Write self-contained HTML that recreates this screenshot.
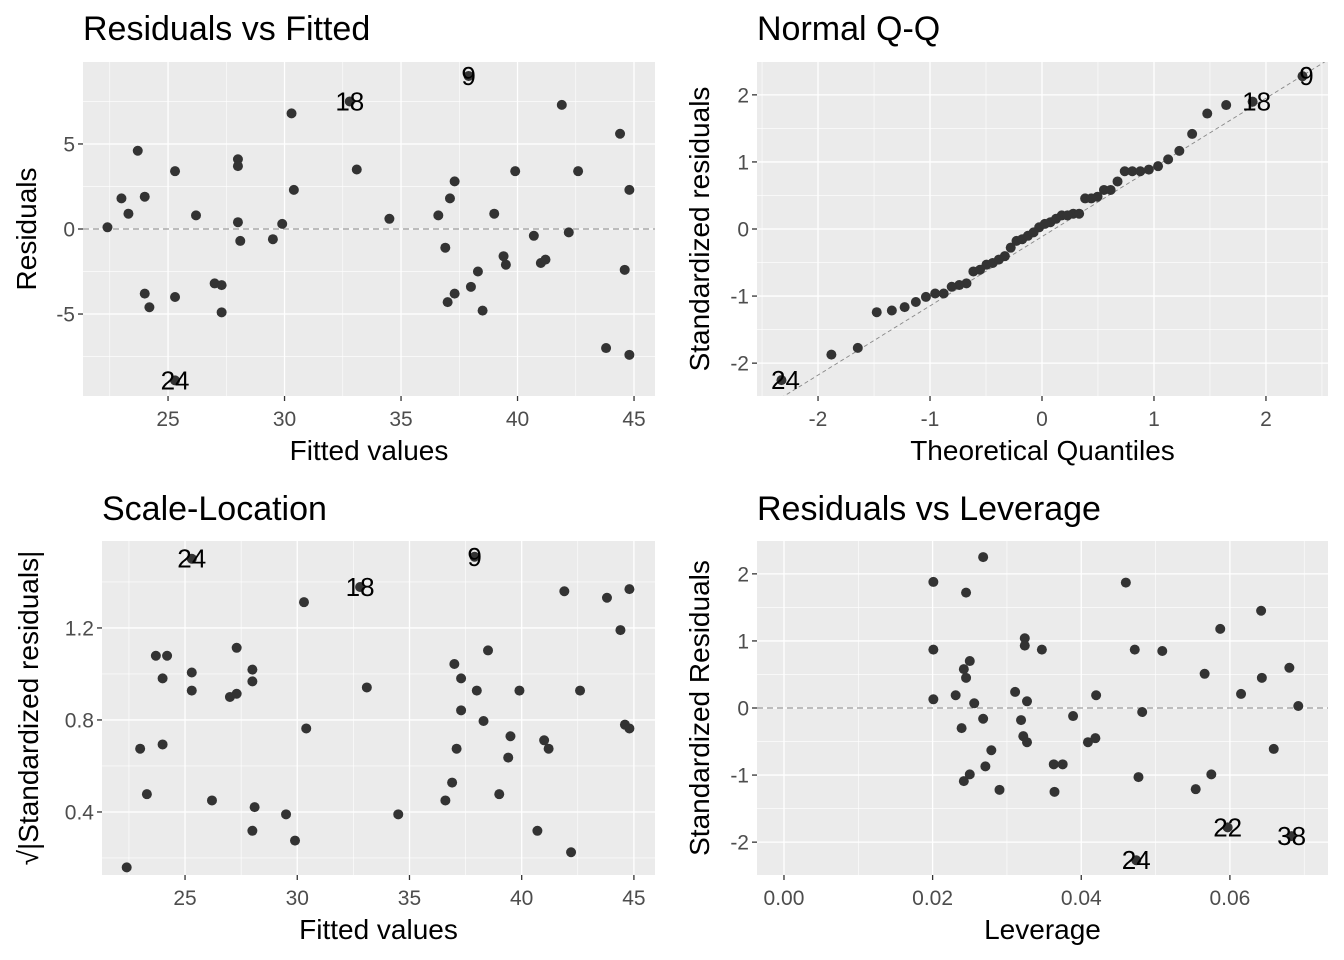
<!DOCTYPE html>
<html><head><meta charset="utf-8"><style>
body{margin:0;background:#fff}
svg{display:block;font-family:"Liberation Sans",sans-serif}
</style></head><body>
<svg id="chart" width="1344" height="960" viewBox="0 0 1344 960"></svg>
<script>
const fittedValues=[22.4,23.0,23.3,23.7,24.0,24.0,24.2,25.3,25.3,25.3,26.2,27.0,27.3,27.3,28.0,28.0,28.0,28.1,29.5,29.9,30.3,30.4,32.8,33.1,34.5,36.6,36.9,37.1,37.0,37.3,37.3,37.9,38.0,38.3,38.5,39.0,39.4,39.5,39.9,40.7,41.0,41.2,41.9,42.2,42.6,43.8,44.4,44.6,44.8,44.8];
const residualValues=[0.1,1.8,0.9,4.6,1.9,-3.8,-4.6,3.4,-4.0,-8.9,0.8,-3.2,-3.3,-4.9,4.1,3.7,0.4,-0.7,-0.6,0.3,6.8,2.3,7.5,3.5,0.6,0.8,-1.1,1.8,-4.3,2.8,-3.8,9.0,-3.4,-2.5,-4.8,0.9,-1.6,-2.1,3.4,-0.4,-2.0,-1.8,7.3,-0.2,3.4,-7.0,5.6,-2.4,2.3,-7.4];
const pointIds=[1,2,3,4,5,6,7,8,10,24,11,12,13,14,15,16,17,19,20,21,23,25,18,26,27,28,29,30,31,32,33,9,34,35,36,37,39,40,41,42,43,44,45,46,47,48,49,50,51,52];
const residualSigma=3.95;
const leverageValues=[0.0201,0.0201,0.0201,0.0245,0.0268,0.0231,0.0239,0.0242,0.0245,0.0250,0.0242,0.0250,0.0256,0.0268,0.0271,0.0279,0.0290,0.0311,0.0319,0.0324,0.0324,0.0322,0.0327,0.0327,0.0347,0.0363,0.0364,0.0375,0.0389,0.0409,0.0419,0.0420,0.0460,0.0472,0.0477,0.0474,0.0482,0.0509,0.0554,0.0566,0.0575,0.0587,0.0597,0.0615,0.0642,0.0643,0.0659,0.0680,0.0683,0.0692];
const leverageStdResiduals=[1.88,0.87,0.13,1.72,2.25,0.19,-0.30,0.58,0.45,0.70,-1.09,-0.99,0.07,-0.16,-0.87,-0.63,-1.22,0.24,-0.18,1.04,0.93,-0.42,-0.51,0.10,0.87,-0.84,-1.25,-0.84,-0.12,-0.51,-0.45,0.19,1.87,0.87,-1.03,-2.27,-0.06,0.85,-1.21,0.51,-0.99,1.18,-1.78,0.21,1.45,0.45,-0.61,0.60,-1.91,0.03];
const leverageLabels={35:"24",42:"22",48:"38"};
const labelIds=[9,18,24];
const rvfXTicks=[25,30,35,40,45], rvfYTicks=[-5,0,5];
const qqXTicks=[-2,-1,0,1,2], qqYTicks=[-2,-1,0,1,2];
const slYTicks=[0.4,0.8,1.2];
const levXTicks=[0,0.02,0.04,0.06], levYTicks=[-2,-1,0,1,2];

const NS="http://www.w3.org/2000/svg";
const svg=document.getElementById('chart');
function mk(tag,attrs,parent){const e=document.createElementNS(NS,tag);for(const k in attrs)e.setAttribute(k,attrs[k]);(parent||svg).appendChild(e);return e;}
function qnorm(p){const a=[-39.6968302866538,220.946098424521,-275.928510446969,138.357751867269,-30.6647980661472,2.50662827745924],b=[-54.4760987982241,161.585836858041,-155.698979859887,66.8013118877197,-13.2806815528857],c=[-0.00778489400243029,-0.322396458041136,-2.40075827716184,-2.54973253934373,4.37466414146317,2.93816398269878],d=[0.00778469570904146,0.32246712907004,2.445134137143,3.75440866190742];let q,r;
if(p<0.02425){q=Math.sqrt(-2*Math.log(p));return(((((c[0]*q+c[1])*q+c[2])*q+c[3])*q+c[4])*q+c[5])/((((d[0]*q+d[1])*q+d[2])*q+d[3])*q+1);}
if(p>1-0.02425){q=Math.sqrt(-2*Math.log(1-p));return-(((((c[0]*q+c[1])*q+c[2])*q+c[3])*q+c[4])*q+c[5])/((((d[0]*q+d[1])*q+d[2])*q+d[3])*q+1);}
q=p-0.5;r=q*q;return(((((a[0]*r+a[1])*r+a[2])*r+a[3])*r+a[4])*r+a[5])*q/(((((b[0]*r+b[1])*r+b[2])*r+b[3])*r+b[4])*r+1);}

function panel(cfg){
  const g=mk('g',{});
  
  
  const {L,R,T,B}=cfg;
  const sx=v=>L+(v-cfg.x0)/(cfg.x1-cfg.x0)*(R-L);
  const sy=v=>B-(v-cfg.y0)/(cfg.y1-cfg.y0)*(B-T);
  const bg=mk('rect',{x:L,y:T,width:R-L,height:B-T,fill:'#EBEBEB'},g);
  
  
  cfg.xMinor.forEach(v=>mk('line',{x1:sx(v),x2:sx(v),y1:T,y2:B,stroke:'#fff','stroke-width':0.6},g));
  cfg.yMinor.forEach(v=>mk('line',{x1:L,x2:R,y1:sy(v),y2:sy(v),stroke:'#fff','stroke-width':0.6},g));
  cfg.xTicks.forEach((v,i)=>{const x=sx(v);mk('line',{x1:x,x2:x,y1:T,y2:B,stroke:'#fff','stroke-width':1.3},g);
    mk('line',{x1:x,x2:x,y1:B,y2:B+5,stroke:'#333','stroke-width':1.3},g);
    const t=mk('text',{x:x,y:B+30,'text-anchor':'middle','font-size':21,fill:'#4D4D4D'},g);t.textContent=cfg.xLab[i];
    
    });
  cfg.yTicks.forEach((v,i)=>{const y=sy(v);mk('line',{x1:L,x2:R,y1:y,y2:y,stroke:'#fff','stroke-width':1.3},g);
    mk('line',{x1:L-5,x2:L,y1:y,y2:y,stroke:'#333','stroke-width':1.3},g);
    const t=mk('text',{x:L-8,y:y+7.5,'text-anchor':'end','font-size':21,fill:'#4D4D4D'},g);t.textContent=cfg.yLab[i];
    
    });
  if(cfg.hline!==undefined)mk('line',{x1:L,x2:R,y1:sy(cfg.hline),y2:sy(cfg.hline),stroke:'#888','stroke-width':1,'stroke-dasharray':'6,4'},g);
  if(cfg.refLine){const [a,b]=cfg.refLine;const ln=mk('line',{x1:sx(cfg.x0),y1:sy(a+b*cfg.x0),x2:sx(cfg.x1),y2:sy(a+b*cfg.x1),stroke:'#888','stroke-width':0.9,'stroke-dasharray':'4,3'},g);
    
    
    const cp=mk('clipPath',{id:'clip-'+cfg.name},g);mk('rect',{x:L,y:T,width:R-L,height:B-T},cp);ln.setAttribute('clip-path','url(#clip-'+cfg.name+')');}
  cfg.xs.forEach((xv,i)=>{const c=mk('circle',{cx:sx(xv),cy:sy(cfg.ys[i]),r:5,fill:'#333'},g);
    
    });
  cfg.labels.forEach(o=>{const t=mk('text',{x:sx(o.x)+(o.dx||0),y:sy(o.y)+9,'text-anchor':'middle','font-size':26,fill:'#000'},g);t.textContent=o.t;
    
    });
  const ti=mk('text',{x:L,y:cfg.titleY,'font-size':34,fill:'#000'},g);ti.textContent=cfg.title;
  
  
  const xt=mk('text',{x:(L+R)/2,y:B+64,'text-anchor':'middle','font-size':28,fill:'#000'},g);xt.textContent=cfg.xTitle;
  
  
  const yt=mk('text',{x:0,y:0,'text-anchor':'middle','font-size':28,fill:'#000',transform:`translate(${cfg.yTitleX},${(T+B)/2}) rotate(-90)`},g);yt.textContent=cfg.yTitle;
  
  
}
const labIdx=labelIds.map(id=>pointIds.indexOf(id));
const stdRes=residualValues.map(r=>r/residualSigma);
panel({name:'residuals-vs-fitted',L:83,R:655,T:62,B:396,x0:21.35,x1:45.9,y0:-9.82,y1:9.82,
  xTicks:rvfXTicks,xLab:rvfXTicks.map(String),yTicks:rvfYTicks,yLab:rvfYTicks.map(String),
  xMinor:[22.5,27.5,32.5,37.5,42.5],yMinor:[-7.5,-2.5,2.5,7.5],hline:0,
  xs:fittedValues,ys:residualValues,labels:labIdx.map(i=>({x:fittedValues[i],y:residualValues[i],t:String(pointIds[i])})),
  title:'Residuals vs Fitted',titleY:40,xTitle:'Fitted values',yTitle:'Residuals',yTitleX:36});
const order=stdRes.map((v,i)=>i).sort((a,b)=>stdRes[a]-stdRes[b]);
const n=stdRes.length, qx=new Array(n);
order.forEach((idx,k)=>{qx[idx]=qnorm((k+1-0.5)/n);});
const sorted=order.map(i=>stdRes[i]);
const q1=sorted[Math.floor(0.25*(n-1))],q3=sorted[Math.floor(0.75*(n-1))];
const slope=(q3-q1)/(qnorm(0.75)-qnorm(0.25)), icpt=q1-slope*qnorm(0.25);
panel({name:'normal-qq',L:757,R:1328,T:62,B:396,x0:-2.545,x1:2.554,y0:-2.49,y1:2.49,
  xTicks:qqXTicks,xLab:qqXTicks.map(String),yTicks:qqYTicks,yLab:qqYTicks.map(String),
  xMinor:[-2.5,-1.5,-0.5,0.5,1.5,2.5],yMinor:[-1.5,-0.5,0.5,1.5],refLine:[icpt,slope],
  xs:qx,ys:stdRes,labels:labIdx.map(i=>({x:qx[i],y:stdRes[i],t:String(pointIds[i]),dx:4})),
  title:'Normal Q-Q',titleY:40,xTitle:'Theoretical Quantiles',yTitle:'Standardized residuals',yTitleX:709});
const slVals=stdRes.map(v=>Math.sqrt(Math.abs(v)));
panel({name:'scale-location',L:102,R:655,T:541,B:875,x0:21.3,x1:45.94,y0:0.126,y1:1.578,
  xTicks:rvfXTicks,xLab:rvfXTicks.map(String),yTicks:slYTicks,yLab:slYTicks.map(v=>v.toFixed(1)),
  xMinor:[22.5,27.5,32.5,37.5,42.5],yMinor:[0.2,0.6,1.0,1.4],
  xs:fittedValues,ys:slVals,labels:labIdx.map(i=>({x:fittedValues[i],y:slVals[i],t:String(pointIds[i])})),
  title:'Scale-Location',titleY:520,xTitle:'Fitted values',yTitle:'√|Standardized residuals|',yTitleX:38});
panel({name:'residuals-vs-leverage',L:757,R:1328,T:541,B:875,x0:-0.00363,x1:0.0732,y0:-2.49,y1:2.49,
  xTicks:levXTicks,xLab:levXTicks.map(v=>v.toFixed(2)),yTicks:levYTicks,yLab:levYTicks.map(String),
  xMinor:[0.01,0.03,0.05,0.07],yMinor:[-1.5,-0.5,0.5,1.5],hline:0,
  xs:leverageValues,ys:leverageStdResiduals,labels:Object.keys(leverageLabels).map(k=>({x:leverageValues[k],y:leverageStdResiduals[k],t:leverageLabels[k]})),
  title:'Residuals vs Leverage',titleY:520,xTitle:'Leverage',yTitle:'Standardized Residuals',yTitleX:709});
</script>
</body></html>
